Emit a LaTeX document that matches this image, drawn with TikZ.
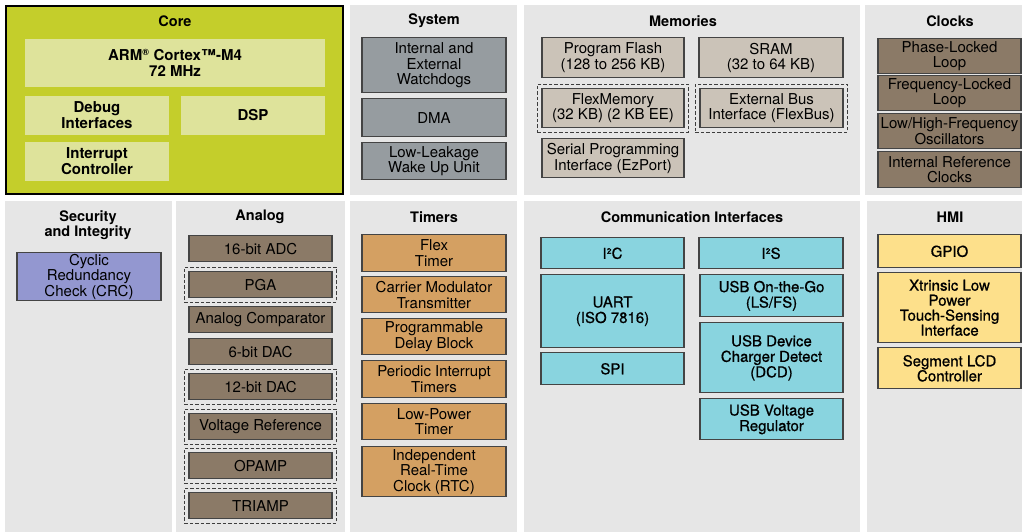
\documentclass[tikz,border=0pt]{standalone}
\usepackage{fontspec}
\setmainfont{TeX Gyre Heros}
\newfontfamily\medfont[FakeBold=0.8]{TeX Gyre Heros}
\usetikzlibrary{fit}
\definecolor{corefill}{HTML}{C4CE2B}
\definecolor{coreinner}{HTML}{DEE39B}
\definecolor{panelfill}{HTML}{E6E6E6}
\definecolor{sysfill}{HTML}{969CA0}
\definecolor{memfill}{HTML}{CBC3B8}
\definecolor{brownfill}{HTML}{8B7A67}
\definecolor{crcfill}{HTML}{9397D0}
\definecolor{timfill}{HTML}{D4A062}
\definecolor{comfill}{HTML}{89D4DF}
\definecolor{hmifill}{HTML}{FDE08B}
\definecolor{edge}{HTML}{444444}
\newcommand\blk[7]{\node[#2, minimum width={(#5)-(#3)}, minimum height={(#6)-(#4)}] (#1) at ({((#3)+(#5))/2},{((#4)+(#6))/2+0.8}) {#7};}
\begin{document}
\begin{tikzpicture}[x=1pt,y=-1pt,
  panel/.style={fill=panelfill},
  ttl/.style={font=\fontsize{14.5}{15.5}\selectfont\bfseries, align=center, inner sep=0},
  box/.style={draw=edge, line width=1.1pt, inner sep=0, align=center, text=black,
    font=\fontsize{15}{15.5}\selectfont},
  corebox/.style={box, draw=none, fill=coreinner, font=\fontsize{15}{15.5}\selectfont\bfseries},
  sysbox/.style={box, fill=sysfill},
  membox/.style={box, fill=memfill},
  clkbox/.style={box, fill=brownfill},
  anabox/.style={box, fill=brownfill},
  crcbox/.style={box, fill=crcfill, font=\fontsize{15}{12.5}\selectfont},
  timbox/.style={box, fill=timfill},
  combox/.style={box, fill=comfill, font=\fontsize{15}{15.5}\medfont},
  hmibox/.style={box, fill=hmifill, font=\fontsize{15}{15}\medfont},
  dashbox/.style={draw=edge!90!black, line width=1.4pt, dash pattern=on 3.5pt off 2pt, inner sep=4pt}
]
\useasboundingbox (0,0) rectangle (1022,531);
\clip (0,0) rectangle (1022,531);
\fill[white] (0,0) rectangle (1022,531);

% panels
\fill[corefill] (6,6) rectangle (343,194);
\draw[black, line width=1.5pt] (6,6) rectangle (343,194);
\fill[panel] (350,5) rectangle (517,195);
\fill[panel] (524,5) rectangle (860,195);
\fill[panel] (865,5) rectangle (1030,195);
\fill[panel] (5,201) rectangle (172,535);
\fill[panel] (176,201) rectangle (345,535);
\fill[panel] (350,201) rectangle (517,535);
\fill[panel] (524,201) rectangle (860,535);
\fill[panel] (867,201) rectangle (1030,535);

% titles
\node[ttl] (tcore) at (175,21) {Core};
\node[ttl] (tsys) at (434,21) {System};
\node[ttl] (tmem) at (683,21) {Memories};
\node[ttl] (tclk) at (950,21) {Clocks};
\node[ttl] (tsec) at (88,225) {Security\\and Integrity};
\node[ttl] (tana) at (260,217) {Analog};
\node[ttl] (ttim) at (434,217) {Timers};
\node[ttl] (tcom) at (692,217) {Communication Interfaces};
\node[ttl] (thmi) at (950,217) {HMI};

% core
\blk{arm}{corebox}{25}{38}{325}{86}{ARM\textsuperscript{\fontsize{9}{9}\selectfont ®} Cortex™-M4\\72 MHz}
\blk{dbg}{corebox}{25}{95}{169}{134}{Debug\\Interfaces}
\blk{dsp}{corebox}{181}{95}{325}{134}{DSP}
\blk{irq}{corebox}{25}{141}{169}{180}{Interrupt\\Controller}

% system
\blk{wdog}{sysbox}{362}{37}{506}{92}{Internal and\\External\\Watchdogs}
\blk{dma}{sysbox}{362}{98}{506}{136}{DMA}
\blk{llwu}{sysbox}{362}{142}{506}{179}{Low-Leakage\\Wake Up Unit}

% memories
\blk{pflash}{membox}{542}{37}{684}{77}{Program Flash\\(128 to 256 KB)}
\blk{sram}{membox}{699}{37}{843}{77}{SRAM\\(32 to 64 KB)}
\blk{flexmem}{membox}{542}{88}{684}{127}{FlexMemory\\(32 KB) (2 KB EE)}
\blk{flexbus}{membox}{700}{88}{843}{127}{External Bus\\Interface (FlexBus)}
\blk{ezport}{membox}{542}{138}{684}{177}{Serial Programming\\Interface (EzPort)}
\node[dashbox, fit=(flexmem)] (flexmemd) {};
\node[dashbox, fit=(flexbus)] (flexbusd) {};

% clocks
\blk{pll}{clkbox}{878}{38}{1021}{73}{Phase-Locked\\Loop}
\blk{fll}{clkbox}{878}{75}{1021}{110}{Frequency-Locked\\Loop}
\blk{osc}{clkbox}{878}{113}{1021}{148}{Low/High-Frequency\\Oscillators}
\blk{irc}{clkbox}{878}{151}{1021}{187}{Internal Reference\\Clocks}

% security
\blk{crc}{crcbox}{17}{252}{161}{300}{Cyclic\\Redundancy\\Check (CRC)}

% analog
\blk{adc}{anabox}{189}{235}{332}{261}{16-bit ADC}
\blk{pga}{anabox}{189}{271}{332}{297}{PGA}
\blk{cmp}{anabox}{189}{306}{332}{332}{Analog Comparator}
\blk{dac6}{anabox}{189}{338}{332}{364}{6-bit DAC}
\blk{dac12}{anabox}{189}{373}{332}{399}{12-bit DAC}
\blk{vref}{anabox}{189}{413}{332}{439}{Voltage Reference}
\blk{opamp}{anabox}{189}{452}{332}{478}{OPAMP}
\blk{triamp}{anabox}{189}{492}{332}{518}{TRIAMP}
\node[dashbox, fit=(pga)] (pgad) {};
\node[dashbox, fit=(dac12)] (dac12d) {};
\node[dashbox, fit=(vref)] (vrefd) {};
\node[dashbox, fit=(opamp)] (opampd) {};
\node[dashbox, fit=(triamp)] (triampd) {};

% timers
\blk{ftm}{timbox}{362}{234}{506}{271}{Flex\\Timer}
\blk{cmt}{timbox}{362}{276}{506}{312}{Carrier Modulator\\Transmitter}
\blk{pdb}{timbox}{362}{318}{506}{354}{Programmable\\Delay Block}
\blk{pit}{timbox}{362}{360}{506}{397}{Periodic Interrupt\\Timers}
\blk{lptmr}{timbox}{362}{403}{506}{439}{Low-Power\\Timer}
\blk{rtc}{timbox}{362}{446}{506}{496}{Independent\\Real-Time\\Clock (RTC)}

% communication
\blk{iic}{combox}{541}{237}{684}{268}{I²C}
\blk{iis}{combox}{699}{237}{843}{268}{I²S}
\blk{uart}{combox}{541}{274}{684}{347}{UART\\(ISO 7816)}
\blk{spi}{combox}{541}{352}{684}{384}{SPI}
\blk{otg}{combox}{700}{274}{843}{316}{USB On-the-Go\\(LS/FS)}
\blk{dcd}{combox}{700}{322}{843}{392}{USB Device\\Charger Detect\\(DCD)}
\blk{vreg}{combox}{700}{398}{843}{439}{USB Voltage\\Regulator}

% HMI
\blk{gpio}{hmibox}{878}{234}{1021}{267}{GPIO}
\blk{tsi}{hmibox}{878}{272}{1021}{342}{Xtrinsic Low\\Power\\Touch-Sensing\\Interface}
\blk{lcd}{hmibox}{878}{347}{1021}{388}{Segment LCD\\Controller}
\end{tikzpicture}
\end{document}
